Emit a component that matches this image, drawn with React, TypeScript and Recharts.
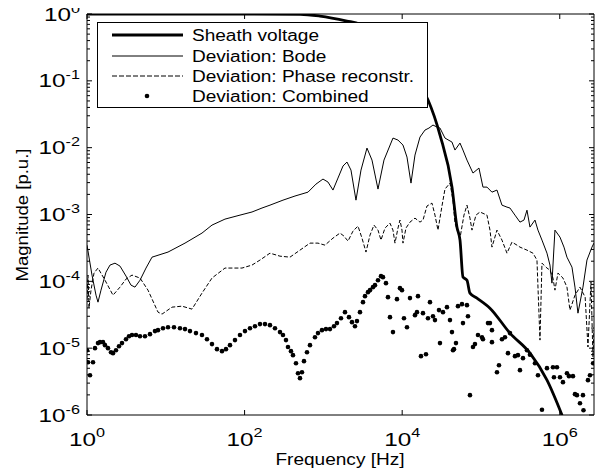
import React from 'react';
import { ComposedChart, Line, Scatter, XAxis, YAxis, Legend } from 'recharts';

// ---------- data (frequency in Hz, magnitude in p.u.) ----------
const sheathFreq = [1, 27, 505, 905, 1990, 2910, 4520, 7000, 10200, 14500, 21300, 30200, 42900, 49600, 54200, 59100, 66400, 72500, 88900, 130000, 233000, 419000, 689000, 1070000];
const sheathMag = [1, 1, 0.99, 0.93, 0.785, 0.708, 0.557, 0.381, 0.219, 0.11, 0.0516, 0.01545, 0.00257, 6.47e-4, 4.14e-4, 1.16e-4, 1.04e-4, 6.65e-5, 5.61e-5, 3.97e-5, 1.68e-5, 8.41e-6, 3.32e-6, 9.9e-7];

const bodeFreq = [1, 1.157, 1.301, 1.379, 1.505, 1.742, 1.958, 2.266, 2.623, 3.125, 3.618, 4.065, 4.706, 5.608, 6.683, 10.67, 17.53, 28.8, 38.58, 56.39, 87.43, 124.2, 166.3, 210.1, 307.2, 436.2, 637.7, 805.7, 988.3, 1144, 1324, 1532, 1774, 1993, 2240, 2593, 3001, 3575, 4139, 4932, 5875, 7642, 8845, 10240, 11510, 12940, 14540, 16830, 19470, 21890, 24600, 27650, 30180, 34930, 42850, 46780, 54140, 59100, 66430, 79150, 94320, 106000, 119200, 137900, 159600, 184700, 213800, 233300, 270100, 312600, 351300, 383600, 418700, 484600, 528900, 594600, 688100, 751000, 796100, 869000, 1006000, 1131000, 1234000, 1429000, 1560000, 1702000, 1970000, 2214000, 2563000, 2716000];
const bodeMag = [3.48e-4, 1.24e-4, 6.21e-5, 4.88e-5, 7.38e-5, 1.37e-4, 1.75e-4, 1.87e-4, 1.69e-4, 1.2e-4, 8.77e-5, 8.19e-5, 1.04e-4, 1.58e-4, 2.3e-4, 2.74e-4, 3.73e-4, 5.27e-4, 6.94e-4, 8.53e-4, 9.79e-4, 1.09e-3, 1.25e-3, 1.38e-3, 1.64e-3, 1.89e-3, 2.16e-3, 2.85e-3, 3.39e-3, 3.06e-3, 2.32e-3, 3.51e-3, 5.31e-3, 6.09e-3, 4.62e-3, 1.64e-3, 4.62e-3, 9.86e-3, 6.52e-3, 2.4e-3, 6.52e-3, 1.392e-2, 1.299e-2, 1.094e-2, 7.23e-3, 2.95e-3, 7.75e-3, 1.441e-2, 1.834e-2, 1.965e-2, 2.18e-2, 2.034e-2, 1.965e-2, 1.392e-2, 1.213e-2, 9.21e-3, 1.172e-2, 9.21e-3, 6.52e-3, 4.17e-3, 4.95e-3, 2.57e-3, 2.57e-3, 2.16e-3, 2.32e-3, 1.38e-3, 1.29e-3, 1.25e-3, 9.79e-4, 7.69e-4, 8.25e-4, 1.16e-3, 6.48e-4, 8.25e-4, 5.84e-4, 4.14e-4, 2.64e-4, 1.75e-4, 9.4e-5, 5.84e-4, 4.59e-4, 3.25e-4, 2.3e-4, 1.63e-4, 8.19e-5, 3.34e-5, 8.19e-5, 2.08e-4, 3.25e-4, 3.73e-4];

const phaseFreq = [1, 1.03, 1.06, 1.124, 1.227, 1.379, 1.692, 2.138, 2.623, 3.125, 3.725, 4.706, 5.944, 7.962, 8.95, 11.99, 16.06, 21.5, 28.8, 38.58, 56.39, 92.69, 124.2, 156.8, 210.1, 281.3, 376.8, 504.7, 676, 854.1, 1048, 1324, 1624, 1826, 2053, 2375, 2749, 3090, 3472, 3904, 4386, 4932, 5383, 6050, 7002, 7642, 8103, 8845, 9378, 9943, 10240, 11170, 12560, 14540, 16830, 18370, 20640, 23890, 26080, 28470, 32000, 34930, 40430, 44140, 46780, 54140, 60850, 66430, 72520, 76890, 86430, 97110, 119200, 130100, 137900, 159600, 184700, 213800, 247400, 286400, 312600, 383600, 457000, 513700, 560900, 594600, 688100, 751000, 819900, 869000, 949000, 1098000, 1234000, 1347000, 1560000, 1805000, 2100000, 2280000, 2490000, 2638000, 2716000];
const phaseMag = [5.23e-5, 1.24e-4, 3.97e-5, 7.38e-5, 1.33e-4, 1.58e-4, 1.04e-4, 6.21e-5, 8.19e-5, 1.08e-4, 1.24e-4, 1.12e-4, 7.38e-5, 3.46e-5, 3.23e-5, 4.11e-5, 4.25e-5, 3.84e-5, 6.66e-5, 1.12e-4, 1.58e-4, 1.58e-4, 1.75e-4, 2.08e-4, 2.64e-4, 2.38e-4, 2.3e-4, 2.93e-4, 3.73e-4, 3.73e-4, 3.48e-4, 4.43e-4, 5.27e-4, 4.75e-4, 4.0e-4, 5.64e-4, 6.71e-4, 4.43e-4, 2.74e-4, 4.91e-4, 6.94e-4, 5.84e-4, 4.14e-4, 6.26e-4, 7.43e-4, 5.84e-4, 3.73e-4, 6.26e-4, 8.25e-4, 5.84e-4, 3.73e-4, 6.26e-4, 7.69e-4, 8.83e-4, 7.69e-4, 8.25e-4, 1.34e-3, 1.48e-3, 9.79e-4, 5.84e-4, 1.34e-3, 2.4e-3, 2.95e-3, 1.64e-3, 7.43e-4, 4.43e-4, 9.79e-4, 1.38e-3, 8.83e-4, 5.84e-4, 9.79e-4, 1.09e-3, 9.79e-4, 5.84e-4, 3.25e-4, 5.84e-4, 4.14e-4, 2.64e-4, 3.86e-4, 3.48e-4, 3.25e-4, 2.93e-4, 2.64e-4, 2.08e-4, 1.32e-5, 1.87e-4, 1.58e-4, 1.47e-4, 1.12e-4, 7.38e-5, 1.33e-4, 1.12e-4, 8.19e-5, 3.71e-5, 6.21e-5, 8.19e-5, 5.8e-5, 1.04e-5, 9.73e-5, 7.33e-6, 1.86e-5];

const combinedFreq = [1, 1.03, 1.092, 1.192, 1.263, 1.379, 1.462, 1.596, 1.692, 1.847, 2.016, 2.138, 2.333, 2.547, 2.781, 3.125, 3.412, 3.725, 4.186, 4.706, 5.445, 6.303, 7.295, 7.962, 9.214, 10.67, 12.71, 15.14, 17.53, 20.28, 24.16, 28.8, 33.33, 38.58, 44.64, 51.67, 58.07, 65.27, 75.54, 87.43, 101.2, 117.1, 135.5, 156.8, 181.5, 210.1, 243.2, 281.3, 307.2, 335.3, 355.5, 388, 411.4, 449.2, 476.2, 504.7, 535, 567.3, 619.5, 676, 782.3, 854.1, 959.8, 1079, 1213, 1363, 1488, 1673, 1880, 2113, 2307, 2518, 2669, 2914, 3182, 3373, 3681, 3904, 4260, 4518, 4932, 5383, 5706, 6229, 6604, 7002, 7642, 8590, 9378, 9943, 10540, 11510, 12560, 14540, 15410, 15870, 17320, 18370, 20050, 21250, 22540, 24600, 26080, 29310, 30180, 32950, 37030, 40430, 42850, 44140, 45440, 48170, 51060, 57410, 59100, 66430, 68390, 72520, 79150, 83920, 91600, 103000, 106000, 122700, 130100, 137900, 137900, 159600, 169200, 184700, 201700, 220100, 233300, 270100, 294800, 312600, 341300, 383600, 418700, 484600, 528900, 594600, 688100, 819900, 844000, 921500, 1006000, 1098000, 1234000, 1309000, 1471000, 1560000, 1653000, 1805000, 1970000, 2000000, 2280000, 2417000, 2650000];
const combinedMag = [9.33e-6, 6.17e-6, 3.94e-6, 6.17e-6, 1.0e-5, 1.19e-5, 1.23e-5, 1.23e-5, 1.11e-5, 1.0e-5, 8.71e-6, 8.42e-6, 9.33e-6, 1.07e-5, 1.19e-5, 1.36e-5, 1.51e-5, 1.57e-5, 1.57e-5, 1.51e-5, 1.51e-5, 1.62e-5, 1.8e-5, 1.86e-5, 1.99e-5, 2.06e-5, 2.06e-5, 1.99e-5, 1.93e-5, 1.8e-5, 1.68e-5, 1.57e-5, 1.36e-5, 1.15e-5, 9.66e-6, 9.02e-6, 9.66e-6, 1.11e-5, 1.32e-5, 1.57e-5, 1.8e-5, 1.99e-5, 2.13e-5, 2.29e-5, 2.29e-5, 2.21e-5, 1.99e-5, 1.74e-5, 1.57e-5, 1.32e-5, 1.04e-5, 9.02e-6, 7.86e-6, 5.96e-6, 4.22e-6, 3.56e-6, 4.37e-6, 6.39e-6, 8.71e-6, 1.11e-5, 1.46e-5, 1.68e-5, 1.86e-5, 1.93e-5, 1.93e-5, 2.13e-5, 2.37e-5, 2.81e-5, 3.46e-5, 2.91e-5, 2.45e-5, 2.13e-5, 2.54e-5, 3.46e-5, 4.88e-5, 6.0e-5, 6.89e-5, 7.38e-5, 8.19e-5, 8.77e-5, 1.04e-4, 1.196e-4, 1.156e-4, 9.4e-5, 5.8e-5, 2.91e-5, 1.74e-5, 5.41e-5, 7.91e-5, 7.38e-5, 2.81e-5, 2.06e-5, 5.61e-5, 3.12e-5, 3.46e-5, 6.0e-5, 7.59e-6, 3.34e-5, 8.13e-6, 2.81e-5, 4.88e-5, 3.01e-5, 2.63e-5, 3.71e-5, 1.19e-5, 3.46e-5, 4.11e-5, 2.63e-5, 1.74e-5, 9.33e-6, 9.66e-6, 1.19e-5, 4.25e-5, 4.56e-5, 2.37e-5, 4.4e-5, 3.01e-5, 1.98e-6, 1.04e-5, 1.15e-5, 1.57e-5, 1.46e-5, 1.36e-5, 2.37e-5, 2.37e-5, 1.86e-5, 1.23e-5, 4.37e-6, 5.56e-6, 1.36e-5, 1.46e-5, 8.42e-6, 1.68e-5, 7.59e-6, 7.86e-6, 4.69e-6, 7.09e-6, 9.33e-6, 8.0e-6, 5.96e-6, 3.94e-6, 1.2e-6, 5.02e-6, 5.19e-6, 3.68e-6, 5.19e-6, 3.68e-6, 3.1e-6, 4.22e-6, 3.81e-6, 3.81e-6, 2.05e-6, 1.98e-6, 1.5e-6, 1.98e-6, 1.18e-6, 3.32e-6, 3.94e-6, 5.96e-6];

const xTickValues = [1, 100, 10000, 1000000];
const yDecades = [1e-6, 1e-5, 1e-4, 1e-3, 1e-2, 1e-1, 1];
const yMinorSteps = [2, 3, 4, 5, 6, 7, 8, 9];
const legendLabels = ['Sheath voltage', 'Deviation: Bode', 'Deviation: Phase reconstr.', 'Deviation: Combined'];
const xAxisTitle = 'Frequency [Hz]';
const yAxisTitle = 'Magnitude [p.u.]';

// ---------- derived tables ----------
const zip = (fs: number[], ms: number[]) => fs.map((f, i) => ({ f, m: ms[i] }));
const sheathData = zip(sheathFreq, sheathMag);
const bodeData = zip(bodeFreq, bodeMag);
const phaseData = zip(phaseFreq, phaseMag);
const combinedData = zip(combinedFreq, combinedMag);
const yTickValues: number[] = [];
yDecades.forEach((d, i) => {
  yTickValues.push(d);
  if (i < yDecades.length - 1) yMinorSteps.forEach((k) => yTickValues.push(+(k * d).toPrecision(3)));
});

// ---------- styling ----------
const FONT = '"Liberation Sans", Arial, Helvetica, sans-serif';
const W = 607;
const H = 474;
const isMajor = (v: number) => Math.abs(Math.log10(v) - Math.round(Math.log10(v))) < 1e-6;
const expOf = (v: number) => String(Math.round(Math.log10(v)));

const LeftTick = (props: any) => {
  const { x, y, payload } = props;
  const v = payload.value;
  const major = isMajor(v);
  return (
    <g>
      <line x1={x} y1={y} x2={x + (major ? 5 : 3)} y2={y} stroke="#000" strokeWidth={1} />
      {major && (
        <text transform={`translate(${x - 7},${y + 6.5}) scale(1.35,1)`} textAnchor="end" fontFamily={FONT} fontSize={18} fill="#000">
          10<tspan dy={-8} fontSize={12}>{expOf(v)}</tspan>
        </text>
      )}
    </g>
  );
};

const RightTick = (props: any) => {
  const { x, y, payload } = props;
  const major = isMajor(payload.value);
  return <line x1={x} y1={y} x2={x - (major ? 5 : 3)} y2={y} stroke="#000" strokeWidth={1} />;
};

const BottomTick = (props: any) => {
  const { x, y, payload } = props;
  return (
    <g>
      <line x1={x} y1={y} x2={x} y2={y - 5} stroke="#000" strokeWidth={1} />
      <text transform={`translate(${x},${y + 31}) scale(1.35,1)`} textAnchor="middle" fontFamily={FONT} fontSize={18} fill="#000">
        10<tspan dy={-9} fontSize={12}>{expOf(payload.value)}</tspan>
      </text>
    </g>
  );
};

const TopTick = (props: any) => {
  const { x, y } = props;
  return <line x1={x} y1={y} x2={x} y2={y + 5} stroke="#000" strokeWidth={1} />;
};

const XTitle = () => (
  <text transform={`translate(340,465) scale(1.19,1)`} textAnchor="middle" fontFamily={FONT} fontSize={16} fill="#000">
    {xAxisTitle}
  </text>
);

const YTitle = () => (
  <text transform={`translate(28,215) rotate(-90) scale(1.16,1)`} textAnchor="middle" fontFamily={FONT} fontSize={16} fill="#000">
    {yAxisTitle}
  </text>
);

const LegendBox = () => {
  const rows = [13, 34, 54, 74];
  return (
    <svg width={331} height={86} style={{ display: 'block' }}>
      <rect x={0.5} y={0.5} width={330} height={85} fill="#fff" stroke="#000" strokeWidth={1} />
      <line x1={15} x2={86} y1={rows[0]} y2={rows[0]} stroke="#000" strokeWidth={2.8} />
      <line x1={15} x2={86} y1={rows[1]} y2={rows[1]} stroke="#000" strokeWidth={1} />
      <line x1={15} x2={86} y1={rows[2]} y2={rows[2]} stroke="#000" strokeWidth={1} strokeDasharray="5 2" />
      <circle cx={50} cy={rows[3]} r={2.3} fill="#000" />
      {legendLabels.map((t, i) => (
        <text key={t} transform={`translate(95,${rows[i] + 5.8}) scale(1.19,1)`} fontFamily={FONT} fontSize={16} fill="#000">
          {t}
        </text>
      ))}
    </svg>
  );
};

const Dot = (p: any) => <circle cx={p.cx} cy={p.cy} r={2.3} fill="#000" />;

export default function App() {
  return (
    <div style={{ position: 'relative', left: -8, top: -8, width: W, height: H }}>
      <ComposedChart width={W} height={H} margin={{ top: 12, right: 11, bottom: 29, left: 27 }}>
        <XAxis
          xAxisId="b"
          dataKey="f"
          type="number"
          scale="log"
          domain={[1, 2.72e6]}
          allowDataOverflow
          ticks={xTickValues}
          interval={0}
          orientation="bottom"
          height={30}
          tick={<BottomTick />}
          tickLine={false}
          tickSize={0}
          tickMargin={0}
          axisLine={{ stroke: '#000' }}
          label={<XTitle />}
        />
        <XAxis
          xAxisId="t"
          dataKey="f"
          type="number"
          scale="log"
          domain={[1, 2.72e6]}
          allowDataOverflow
          ticks={xTickValues}
          interval={0}
          orientation="top"
          height={2}
          tick={<TopTick />}
          tickLine={false}
          tickSize={0}
          tickMargin={0}
          axisLine={{ stroke: '#000' }}
        />
        <YAxis
          yAxisId="l"
          type="number"
          scale="log"
          domain={[1e-6, 1]}
          allowDataOverflow
          ticks={yTickValues}
          interval={0}
          width={60}
          tick={<LeftTick />}
          tickLine={false}
          tickSize={0}
          tickMargin={0}
          axisLine={{ stroke: '#000' }}
          label={<YTitle />}
        />
        <YAxis
          yAxisId="r"
          orientation="right"
          type="number"
          scale="log"
          domain={[1e-6, 1]}
          allowDataOverflow
          ticks={yTickValues}
          interval={0}
          width={2}
          tick={<RightTick />}
          tickLine={false}
          tickSize={0}
          tickMargin={0}
          axisLine={{ stroke: '#000' }}
        />
        <Line xAxisId="b" yAxisId="l" data={phaseData} dataKey="m" type="linear" stroke="#000" strokeWidth={1} strokeDasharray="4 2" dot={false} activeDot={false} isAnimationActive={false} name={legendLabels[2]} />
        <Line xAxisId="b" yAxisId="l" data={bodeData} dataKey="m" type="linear" stroke="#000" strokeWidth={1} dot={false} activeDot={false} isAnimationActive={false} name={legendLabels[1]} />
        <Scatter xAxisId="b" yAxisId="l" data={combinedData} dataKey="m" fill="#000" shape={<Dot />} isAnimationActive={false} name={legendLabels[3]} />
        <Line xAxisId="b" yAxisId="l" data={sheathData} dataKey="m" type="monotone" stroke="#000" strokeWidth={2.8} dot={false} activeDot={false} isAnimationActive={false} name={legendLabels[0]} />
        <Legend
          layout="horizontal"
          verticalAlign="middle"
          align="center"
          content={() => <LegendBox />}
          wrapperStyle={{ position: 'absolute', left: 97, top: 22, width: 331, height: 86 }}
        />
      </ComposedChart>
    </div>
  );
}
